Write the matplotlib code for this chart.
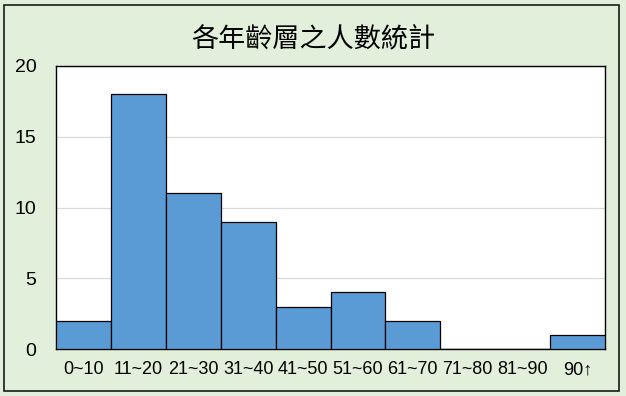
import matplotlib
matplotlib.use("Agg")
import matplotlib.pyplot as plt
from matplotlib.patches import Rectangle

categories = ["0~10", "11~20", "21~30", "31~40", "41~50", "51~60", "61~70", "71~80", "81~90", "90↑"]
counts = [2, 18, 11, 9, 3, 4, 2, 0, 0, 1]
title = "各年齡層之人數統計"
yticks = [0, 5, 10, 15, 20]

W, H = 626, 396
fig = plt.figure(figsize=(W / 100, H / 100), dpi=100)
fig.patch.set_facecolor("#E2EFDA")
fig.patches.append(Rectangle((4 / W, 5 / H), 615 / W, 386 / H, transform=fig.transFigure,
                             fill=False, edgecolor="#1a1a1a", linewidth=1.2))

ax = fig.add_axes([56 / W, 1 - 349 / H, (605 - 56) / W, (349 - 66) / H])
ax.set_facecolor("white")
x = range(len(categories))
ax.bar(x, counts, width=1.0, color="#5B9BD5", edgecolor="black", linewidth=0.9, zorder=3)
ax.set_xlim(-0.5, len(categories) - 0.5)
ax.set_ylim(0, 20)
ax.set_yticks(yticks)
ax.set_xticks(list(x))
ax.set_xticklabels(categories, fontsize=13, family=["Liberation Sans", "DejaVu Sans"])
ax.set_yticklabels([str(v) for v in yticks], fontsize=14, family="Liberation Sans")
ax.tick_params(axis="both", length=0)
ax.tick_params(axis="y", pad=14)
ax.tick_params(axis="x", pad=9)
ax.grid(axis="y", color="#D9D9D9", linewidth=0.9, zorder=0)
for s in ax.spines.values():
    s.set_color("black")
    s.set_linewidth(1.0)

fig.text(0.5, 1 - 39 / H, title, ha="center", va="center", fontsize=19.5,
         family=["Noto Sans CJK TC", "DejaVu Sans"])

fig.savefig("out.png", dpi=100, facecolor=fig.get_facecolor())
